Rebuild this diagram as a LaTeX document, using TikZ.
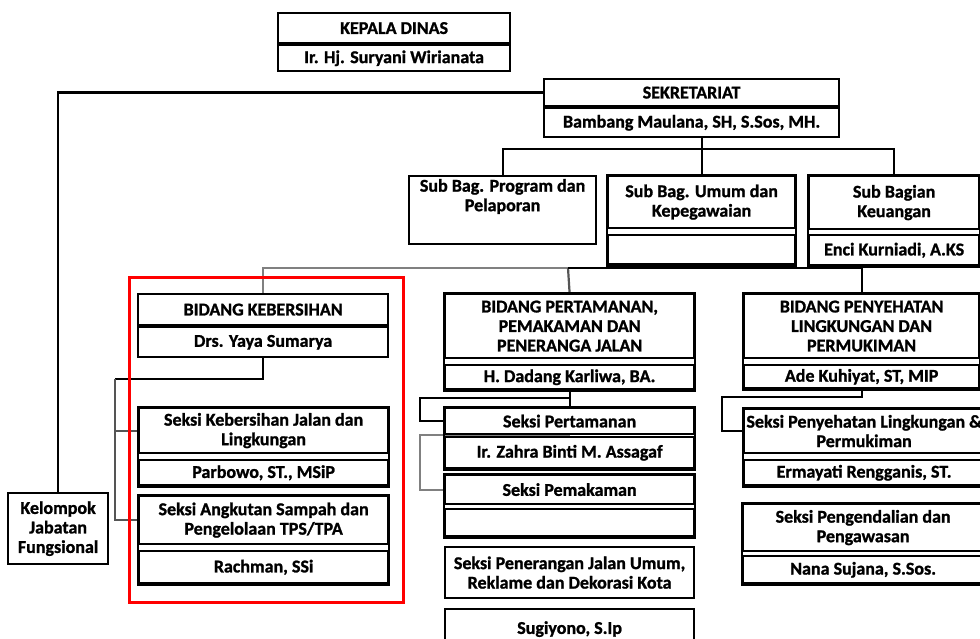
\documentclass[tikz,border=0pt]{standalone}
\usepackage{fontspec}
\setmainfont{Carlito}[BoldFeatures={FakeBold=1.2}]
\usetikzlibrary{positioning,backgrounds}
\definecolor{linegray}{RGB}{128,128,128}
\definecolor{linedark}{RGB}{85,85,85}

\begin{document}
\begin{tikzpicture}[x=1pt,y=-1pt,line width=2.2pt,
                unit box/.style={draw,fill=white,anchor=north west,align=center,inner sep=1pt,
                  font=\bfseries\fontsize{18}{19.5}\selectfont},
                link/.style={draw,line width=2.2pt}]
                \useasboundingbox (0,0) rectangle (980,639);

                \node[unit box,minimum width=232,minimum height=30] (kd) at (277,12) {KEPALA DINAS};
                \node[unit box,minimum width=232,minimum height=26,below=0pt of kd] (kdn) {Ir. Hj. Suryani Wirianata};

                \node[unit box,minimum width=295,minimum height=27] (sek) at (543,78) {SEKRETARIAT};
                \node[unit box,minimum width=295,minimum height=29,below=0pt of sek] (sekn) {Bambang Maulana, SH, S.Sos, MH.};

                \node[unit box,minimum width=187,minimum height=68,text depth=30pt] (sbp) at (408,175) {Sub Bag. Program dan\\Pelaporan};
                \node[unit box,minimum width=187,minimum height=52] (sbu) at (607,175) {Sub Bag. Umum dan\\Kepegawaian};
                \node[unit box,minimum width=187,minimum height=29,below=5pt of sbu] (sbun) {};
                \node[unit box,minimum width=170,minimum height=53] (sbk) at (808,175) {Sub Bagian\\Keuangan};
                \node[unit box,minimum width=170,minimum height=30,below=4pt of sbk] (sbkn) {Enci Kurniadi, A.KS};

                \node[unit box,minimum width=250,minimum height=31] (bk) at (137,293) {BIDANG KEBERSIHAN};
                \node[unit box,minimum width=250,minimum height=30,below=0pt of bk] (bkn) {Drs. Yaya Sumarya};
                \node[unit box,minimum width=249,minimum height=64] (bp) at (444,293) {BIDANG PERTAMANAN,\\PEMAKAMAN DAN\\PENERANGA JALAN};
                \node[unit box,minimum width=249,minimum height=24,below=5pt of bp] (bpn) {H. Dadang Karliwa, BA.};
                \node[unit box,minimum width=235,minimum height=64] (bl) at (743,293) {BIDANG PENYEHATAN\\LINGKUNGAN DAN\\PERMUKIMAN};
                \node[unit box,minimum width=235,minimum height=23,below=5pt of bl] (bln) {Ade Kuhiyat, ST, MIP};

                \node[unit box,minimum width=249,minimum height=45] (skj) at (138,407) {Seksi Kebersihan Jalan dan\\Lingkungan};
                \node[unit box,minimum width=249,minimum height=25,below=5pt of skj] (skjn) {Parbowo, ST., MSiP};
                \node[unit box,minimum width=249,minimum height=48] (sas) at (138,495) {Seksi Angkutan Sampah dan\\Pengelolaan TPS/TPA};
                \node[unit box,minimum width=249,minimum height=32,below=5pt of sas] (sasn) {Rachman, SSi};

                \node[unit box,minimum width=249,minimum height=26] (spt) at (444,407) {Seksi Pertamanan};
                \node[unit box,minimum width=249,minimum height=31,below=1pt of spt] (sptn) {Ir. Zahra Binti M. Assagaf};
                \node[unit box,minimum width=249,minimum height=29] (spm) at (444,474) {Seksi Pemakaman};
                \node[unit box,minimum width=249,minimum height=27,below=3pt of spm] (spmn) {};
                \node[unit box,minimum width=249,minimum height=51] (spj) at (444,546) {Seksi Penerangan Jalan Umum,\\Reklame dan Dekorasi Kota};
                \node[unit box,minimum width=249,minimum height=40] (sug) at (444,608) {Sugiyono, S.Ip};

                \node[unit box,minimum width=240,minimum height=44] (sls) at (743,408) {Seksi Penyehatan Lingkungan \&\\Permukiman};
                \node[unit box,minimum width=240,minimum height=25,below=5pt of sls] (slsn) {Ermayati Rengganis, ST.};
                \node[unit box,minimum width=240,minimum height=47] (spw) at (742,503) {Seksi Pengendalian dan\\Pengawasan};
                \node[unit box,minimum width=240,minimum height=27,below=3pt of spw] (spwn) {Nana Sujana, S.Sos.};

                \node[unit box,minimum width=100,minimum height=71] (kjf) at (7,492) {Kelompok\\Jabatan\\Fungsional};

                \path[draw]
                (sbu.north west) rectangle (sbun.south east)
                (sbk.north west) rectangle (sbkn.south east)
                (bp.north west) rectangle (bpn.south east)
                (bl.north west) rectangle (bln.south east)
                (skj.north west) rectangle (skjn.south east)
                (sas.north west) rectangle (sasn.south east)
                (spt.north west) rectangle (sptn.south east)
                (spm.north west) rectangle (spmn.south east)
                (sls.north west) rectangle (slsn.south east)
                (spw.north west) rectangle (spwn.south east)
                ;

                \begin{scope}[on background layer]
                \coordinate (sbus) at (700,149);
                \coordinate (bbus) at (568,268);
                \coordinate (kbus) at (115,379);
                \coordinate (pbus) at (420,398);
                \coordinate (lbus) at (722,397);

                \path[link] (kjf.north) |- (sek.west);
                \path[link] (sekn.south -| sbu.north) -- (sbu.north);
                \path[link] (sbp.north) |- (sbus) -| (sbk.north);

                \path[link,draw=linegray] (bk.north) |- (bbus);
                \path[link,draw=linedark] (bbus) -- (bp.north);
                \path[link] (bbus) -| (bl.north);

                \path[link] (bkn.south) |- (kbus);
                \path[link,draw=linedark] (kbus) |- (skj.west);
                \path[link,draw=linedark] (kbus) |- (sas.west);

                \path[link] (bpn.south) -- (spt.north);
                \path[link] (bpn.south |- pbus) -- (pbus) |- (spt.west);
                \path[link,draw=linegray] (spt.south) -- (spt.south -| pbus) |- (spm.west);

                \path[link] (bln.south) |- (lbus) |- (sls.west);
                \end{scope}

                \draw[red,line width=3pt] (129,277) rectangle (403,602);
\end{tikzpicture}
\end{document}
